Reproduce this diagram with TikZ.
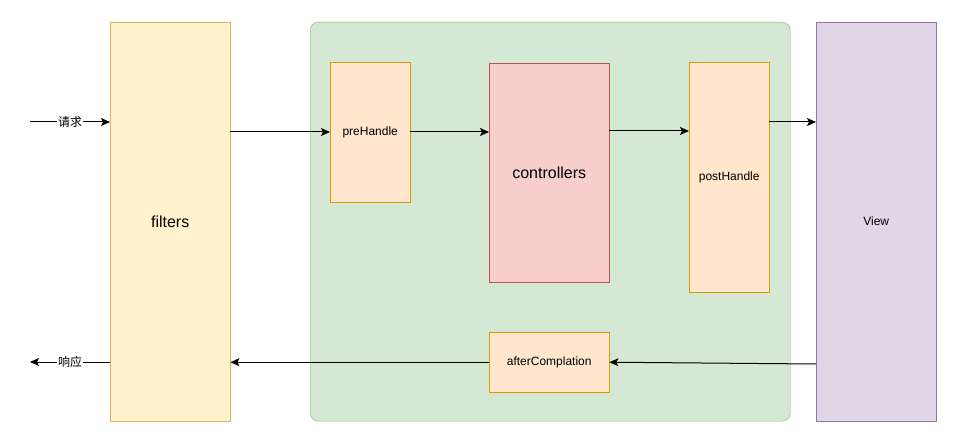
\documentclass[tikz,border=0pt]{standalone}
\usepackage{fontspec}
\setmainfont{Liberation Sans}
\newfontfamily\cjk{Noto Sans CJK SC}
\usetikzlibrary{arrows.meta,positioning}
\definecolor{FilterFill}{HTML}{FFF2CC}
\definecolor{FilterLine}{HTML}{D6B656}
\definecolor{MvcFill}{HTML}{D5E8D4}
\definecolor{MvcLine}{HTML}{82B366}
\definecolor{HookFill}{HTML}{FFE6CC}
\definecolor{HookLine}{HTML}{D79B00}
\definecolor{CtrlFill}{HTML}{F8CECC}
\definecolor{CtrlLine}{HTML}{B85450}
\definecolor{ViewFill}{HTML}{E1D5E7}
\definecolor{ViewLine}{HTML}{9673A6}

\tikzset{
  box/.style={draw,anchor=north west,inner sep=0pt,font=\fontsize{12}{14}\selectfont},
  flow/.style={->,line width=1pt},
  tag/.style={fill=white,inner sep=1pt,font=\cjk\fontsize{12}{14}\selectfont}
}

\begin{document}
\begin{tikzpicture}[x=1pt,y=-1pt,>={Stealth[length=9pt,width=8pt,inset=2pt]}]
  \useasboundingbox (0,0) rectangle (975,441);
  % containers
  \node[box,fill=FilterFill,draw=FilterLine,minimum width=120pt,minimum height=399pt,
        font=\fontsize{16}{18}\selectfont] (filters) at (110,22) {filters};
  \node[box,fill=MvcFill,draw=MvcLine,rounded corners=8pt,minimum width=480pt,
        minimum height=399pt] (mvc) at (310,22) {};
  \node[box,fill=ViewFill,draw=ViewLine,minimum width=120pt,minimum height=399pt] (view) at (816,22) {View};
  % interceptor stages
  \node[box,fill=HookFill,draw=HookLine,minimum width=80pt,minimum height=140pt] (pre) at (330,62) {preHandle};
  \node[box,fill=CtrlFill,draw=CtrlLine,minimum width=120pt,minimum height=219pt,
        font=\fontsize{16}{18}\selectfont] (ctrl) at (489,63) {controllers};
  \node[box,fill=HookFill,draw=HookLine,minimum width=80pt,minimum height=230pt] (post) at (689,62) {postHandle};
  \node[box,fill=HookFill,draw=HookLine,minimum width=120pt,minimum height=60pt] (after) at (489,332) {afterComplation};
  \coordinate (reqin) at (30,122);
  \coordinate (respout) at (30,362);

  \draw[flow] (reqin) -- (reqin -| filters.west) node[tag,midway] {请求};
  \draw[flow] (filters.east |- 0,132) -- (pre.west |- 0,132);
  \draw[flow] (pre.east |- 0,132) -- (ctrl.west |- 0,132);
  \draw[flow] (ctrl.east |- 0,131) -- (post.west |- 0,131);
  \draw[flow] (post.east |- 0,122) -- (view.west |- 0,122);
  \draw[flow] (view.west |- 0,364) -- (after.east);
  \draw[flow] (after.west) -- (filters.east |- after.west);
  \draw[flow] (respout -| filters.west) -- (respout) node[tag,midway] {响应};
\end{tikzpicture}
\end{document}
